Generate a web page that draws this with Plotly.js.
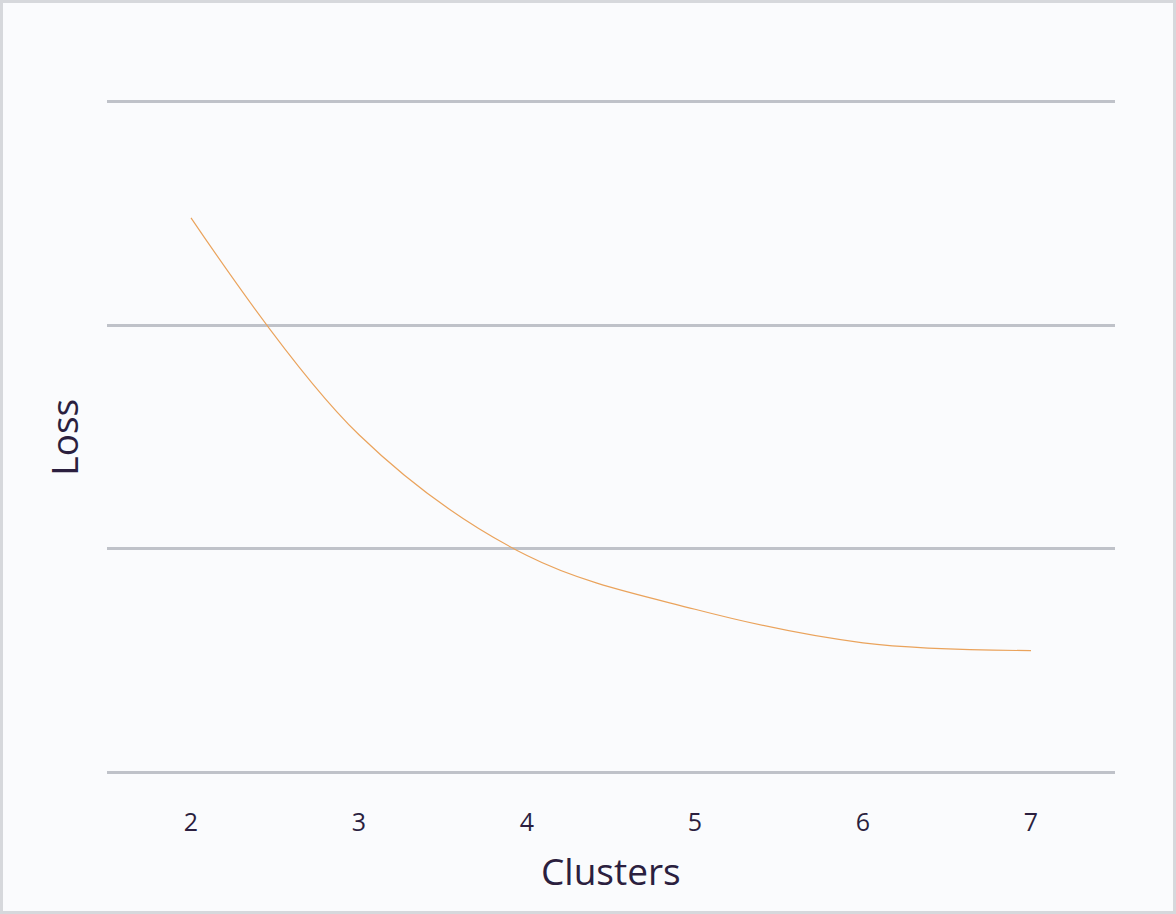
<!DOCTYPE html>
<html>
<head>
<meta charset="utf-8">
<script src="https://cdn.plot.ly/plotly-3.0.1.min.js"></script>
<style>
  html, body { margin: 0; padding: 0; background: #fafbfd; }
  #wrap { position: relative; width: 1176px; height: 914px; }
  #chart { position: absolute; left: 0; top: 0; width: 1176px; height: 914px; }
  #frame { position: absolute; left: 0; top: 0; width: 1176px; height: 914px; box-sizing: border-box;
           border: 3px solid #d6d8dc; pointer-events: none; }
</style>
</head>
<body>
<div id="wrap">
  <div id="chart"></div>
  <div id="frame"></div>
</div>
<script>
const clusters = [2, 3, 4, 5, 6, 7];
const loss = [2.48, 1.51, 0.97, 0.73, 0.58, 0.545];
const tickLabels = ['2', '3', '4', '5', '6', '7'];
const xTitle = 'Clusters';
const yTitle = 'Loss';

const textColor = '#2b1f3f';
const fontFamily = '"Open Sans", "Noto Sans", sans-serif';

const trace = {
  x: clusters,
  y: loss,
  type: 'scatter',
  mode: 'lines',
  line: { color: '#eaa35c', width: 1.2, shape: 'spline', smoothing: 1 },
  hoverinfo: 'x+y'
};

const layout = {
  width: 1176,
  height: 914,
  paper_bgcolor: '#fafbfd',
  plot_bgcolor: '#fafbfd',
  showlegend: false,
  margin: { l: 107, r: 61, t: 97, b: 137 },
  font: { family: fontFamily, color: textColor },
  xaxis: {
    range: [1.5, 7.5],
    tickvals: clusters,
    ticktext: tickLabels,
    showgrid: false,
    zeroline: false,
    showline: false,
    ticks: '',
    ticklabelstandoff: 28,
    tickfont: { size: 25, color: textColor, family: fontFamily },
    automargin: false
  },
  yaxis: {
    range: [-0.02, 3.02],
    tickvals: [0, 1, 2, 3],
    showticklabels: false,
    showgrid: true,
    gridcolor: '#bfc2c9',
    gridwidth: 3,
    zeroline: false,
    showline: false,
    ticks: '',
    automargin: false
  },
  annotations: [
    {
      text: xTitle, xref: 'paper', yref: 'paper', x: 0.5, y: -0.138,
      xanchor: 'center', yanchor: 'middle', showarrow: false,
      font: { size: 37, color: textColor, family: fontFamily }
    },
    {
      text: yTitle, xref: 'paper', yref: 'paper', x: -0.044, y: 0.5,
      xanchor: 'center', yanchor: 'middle', showarrow: false, textangle: -90,
      font: { size: 37, color: textColor, family: fontFamily }
    }
  ]
};

Plotly.newPlot('chart', [trace], layout, { displayModeBar: false, staticPlot: true });
</script>
</body>
</html>
